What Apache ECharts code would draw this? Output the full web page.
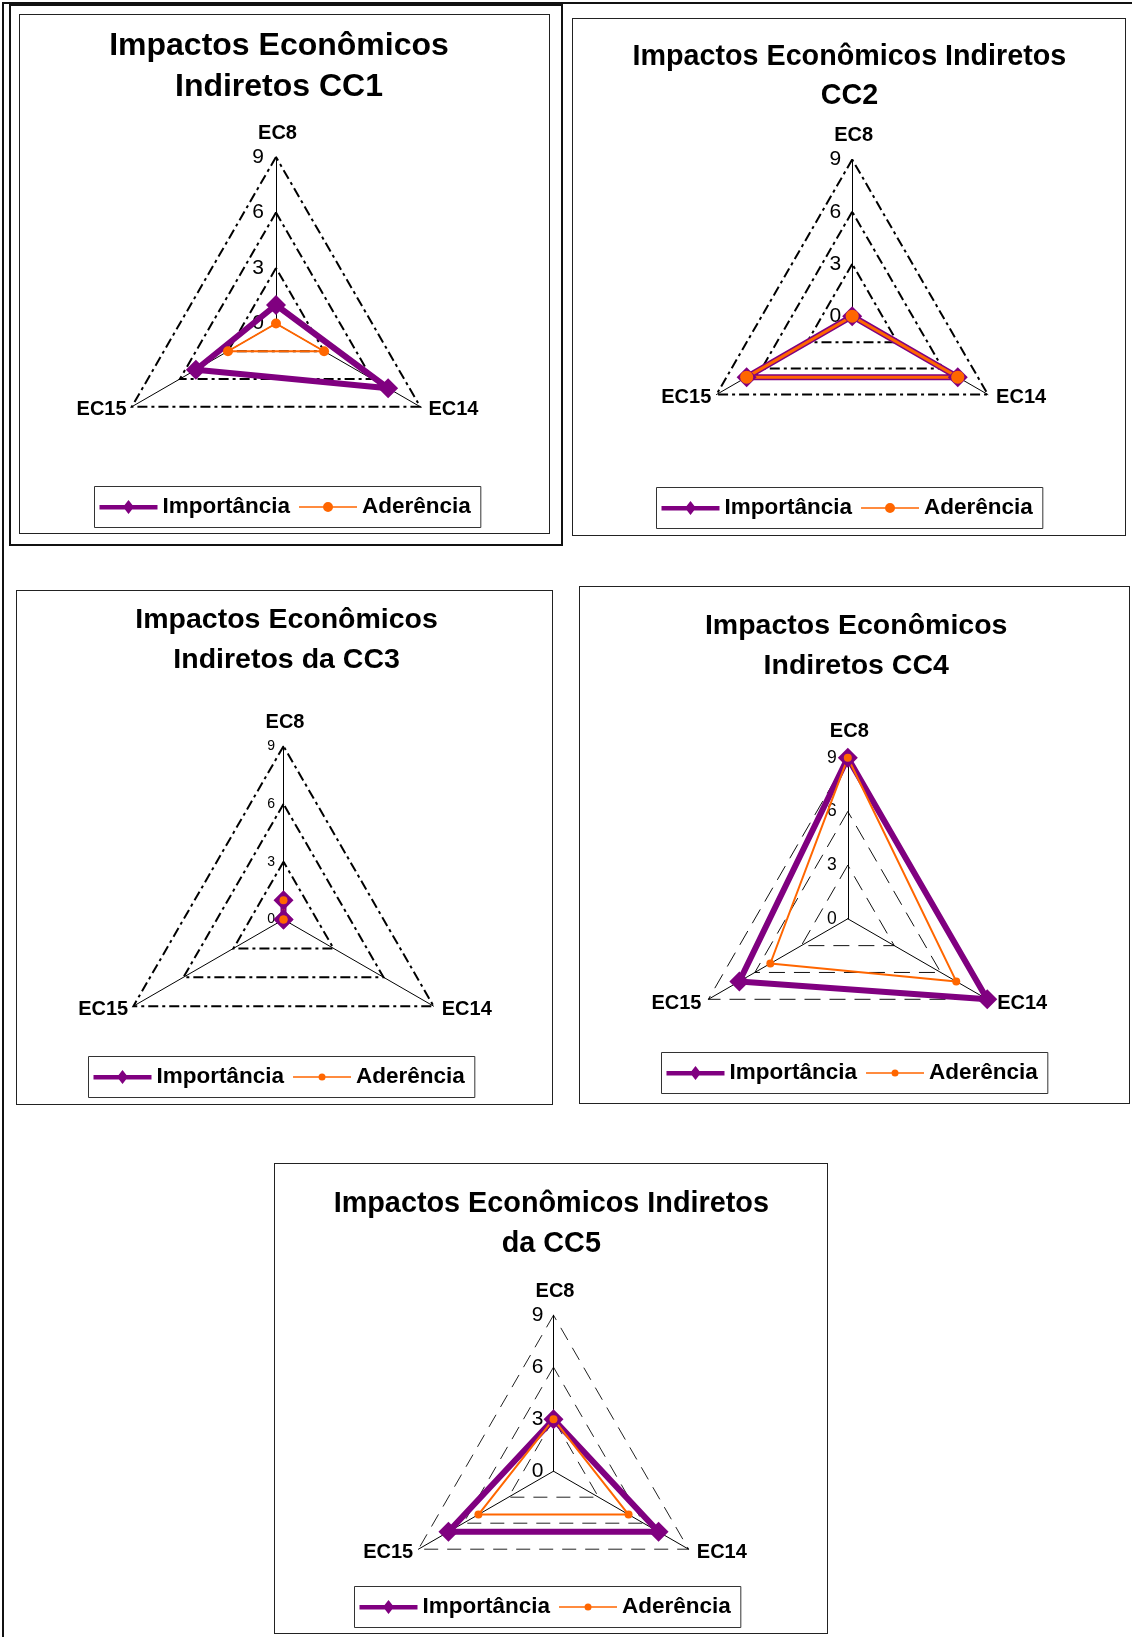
<!DOCTYPE html>
<html>
<head>
<meta charset="utf-8">
<script src="https://cdn.jsdelivr.net/npm/echarts@6/dist/echarts.min.js"></script>
<style>
  html, body { margin: 0; padding: 0; background: #fff; }
  body { width: 1136px; height: 1637px; position: relative; overflow: hidden; }
  .rule { position: absolute; background: #111; }
  .outline { position: absolute; box-sizing: border-box; border: 2.5px solid #111; }
  .panel { position: absolute; box-sizing: border-box; border: 1.5px solid #222; background: #fff; }
  .panel .chart { position: absolute; left: 0; top: 0; right: 0; bottom: 0; }
</style>
</head>
<body>
<div class="rule" style="left:2px;top:2px;width:1130px;height:2px"></div>
<div class="rule" style="left:2px;top:2px;width:2px;height:1635px"></div>
<div class="outline" style="left:9px;top:4px;width:554px;height:542px"></div>
<div class="panel" style="left:19px;top:14px;width:531px;height:520px"><div class="chart" id="c1"></div></div>
<div class="panel" style="left:572px;top:18px;width:554px;height:518px"><div class="chart" id="c2"></div></div>
<div class="panel" style="left:16px;top:590px;width:537px;height:515px"><div class="chart" id="c3"></div></div>
<div class="panel" style="left:579px;top:586px;width:551px;height:518px"><div class="chart" id="c4"></div></div>
<div class="panel" style="left:274px;top:1163px;width:554px;height:471px"><div class="chart" id="c5"></div></div>

<script>
// Indicators, listed counter-clockwise from the top axis
const categories = ['EC8', 'EC15', 'EC14'];
const seriesNames = ['Importância', 'Aderência'];
const axisMax = 9;
const axisSplits = 3; // ticks 0, 3, 6, 9

// Scores per company (same order as categories)
const cc1Importancia = [1, 5, 7];
const cc1Aderencia   = [0, 3, 3];
const cc2Importancia = [0, 7, 7];
const cc2Aderencia   = [0, 7, 7];
const cc3Importancia = [1, 0, 0];
const cc3Aderencia   = [1, 0, 0];
const cc4Importancia = [9, 7, 9];
const cc4Aderencia   = [9, 5, 7];
const cc5Importancia = [3, 7, 7];
const cc5Aderencia   = [3, 5, 5];

const titles = [
  'Impactos Econômicos\nIndiretos CC1',
  'Impactos Econômicos Indiretos\nCC2',
  'Impactos Econômicos\nIndiretos da CC3',
  'Impactos Econômicos\nIndiretos CC4',
  'Impactos Econômicos Indiretos\nda CC5'
];

const FONT = "'Liberation Sans', Arial, Helvetica, sans-serif";
const PURPLE = '#800080';
const ORANGE = '#FF6600';

// Legend glyphs: thick bar with diamond, thin bar with dot (58 x 14 box)
const ICON_IMP = 'path://M0,5 L58,5 L58,9.5 L0,9.5 Z M23.5,7 L29,0 L34.5,7 L29,14 Z';
function dotIcon(r) {
  const a = 29 - r, b = 29 + r;
  return 'path://M0,0 L0,0 Z M58,14 L58,14 Z M0,6.2 L58,6.2 L58,7.8 L0,7.8 Z ' +
    'M' + a + ',7 A' + r + ',' + r + ' 0 1,1 ' + b + ',7 A' + r + ',' + r + ' 0 1,1 ' + a + ',7 Z';
}

// Layout and look of each panel (titleX is the horizontal centre of the title)
const panels = [
  { id: 'c1', imp: cc1Importancia, ader: cc1Aderencia, center: [256, 308.5], radius: 166.5,
    titleSize: 32, titleLH: 41, titleTop: 11, titleX: 259, legend: [74.5, 471.5], nameGap: 6,
    labelSize: 21, labelMargin: 12, grid: { type: [10, 4, 3, 4], width: 2, color: '#000' }, dot: 10, dotIcon: 5 },
  { id: 'c2', imp: cc2Importancia, ader: cc2Aderencia, center: [279.2, 297.2], radius: 156.7,
    titleSize: 28.7, titleLH: 39, titleTop: 19, titleX: 276.4, legend: [83.5, 468.5], nameGap: 6,
    labelSize: 21, labelMargin: 11, grid: { type: [10, 4, 3, 4], width: 2, color: '#000' }, dot: 13, dotIcon: 5, aderWidth: 3 },
  { id: 'c3', imp: cc3Importancia, ader: cc3Aderencia, center: [266.5, 328.5], radius: 173.3,
    titleSize: 28.5, titleLH: 40, titleTop: 9, titleX: 269.6, legend: [71.5, 465.5], nameGap: 6,
    labelSize: 14, labelMargin: 8.5, grid: { type: [10, 4, 3, 4], width: 2, color: '#000' }, dot: 8, dotIcon: 3.5 },
  { id: 'c4', imp: cc4Importancia, ader: cc4Aderencia, center: [267.8, 331.8], radius: 161,
    titleSize: 28.5, titleLH: 40, titleTop: 19, titleX: 276.2, legend: [81.5, 465.5], nameGap: 8,
    labelSize: 17.5, labelMargin: 11, grid: { type: [16, 9], width: 1, color: '#111' }, dot: 8, dotIcon: 3.5 },
  { id: 'c5', imp: cc5Importancia, ader: cc5Aderencia, center: [278.5, 307.2], radius: 156,
    titleSize: 28.8, titleLH: 40, titleTop: 20, titleX: 276.3, legend: [79.5, 422.5], nameGap: 6,
    labelSize: 21, labelMargin: 10, grid: { type: [14, 9], width: 1, color: '#222' }, dot: 8, dotIcon: 3.5 }
];

panels.forEach(function (p, k) {
  const chart = echarts.init(document.getElementById(p.id), null, { renderer: 'canvas' });
  const tickLabel = {
    show: true, color: '#000', fontFamily: FONT, fontSize: p.labelSize,
    fontWeight: 'normal', margin: p.labelMargin
  };
  chart.setOption({
    animation: false,
    backgroundColor: '#fff',
    title: {
      text: titles[k],
      left: p.titleX,
      top: p.titleTop,
      textAlign: 'center',
      padding: 0,
      textStyle: {
        fontFamily: FONT, fontSize: p.titleSize, fontWeight: 'bold',
        color: '#000', lineHeight: p.titleLH
      }
    },
    legend: {
      left: p.legend[0],
      top: p.legend[1],
      orient: 'horizontal',
      selectedMode: false,
      borderColor: '#333',
      borderWidth: 1,
      padding: [9, 10, 9, 5],
      itemGap: 9,
      itemWidth: 58,
      itemHeight: 14,
      textStyle: { fontFamily: FONT, fontSize: 22.5, fontWeight: 'bold', color: '#000' },
      data: [
        { name: seriesNames[0], icon: ICON_IMP, itemStyle: { color: PURPLE, borderWidth: 0 } },
        { name: seriesNames[1], icon: dotIcon(p.dotIcon), itemStyle: { color: ORANGE, borderWidth: 0 } }
      ]
    },
    radar: {
      center: p.center,
      radius: p.radius,
      startAngle: 90,
      shape: 'polygon',
      splitNumber: axisSplits,
      nameGap: p.nameGap,
      indicator: categories.map(function (name, i) {
        return {
          name: name, min: 0, max: axisMax,
          axisLabel: i === 0 ? tickLabel : { show: false }
        };
      }),
      axisName: {
        color: '#000', fontFamily: FONT, fontSize: 20, fontWeight: 'bold',
        padding: [0, 0, 8, 3]
      },
      axisLine: { show: true, lineStyle: { color: '#000', width: 1 } },
      axisTick: { show: false },
      axisLabel: tickLabel,
      splitLine: { show: true, lineStyle: p.grid },
      splitArea: { show: false }
    },
    series: [{
      type: 'radar',
      emphasis: { disabled: true },
      data: [
        {
          name: seriesNames[0], value: p.imp,
          symbol: 'diamond', symbolSize: 20,
          lineStyle: { color: PURPLE, width: 6 },
          itemStyle: { color: PURPLE, borderWidth: 0 }
        },
        {
          name: seriesNames[1], value: p.ader,
          symbol: 'circle', symbolSize: p.dot,
          lineStyle: { color: ORANGE, width: p.aderWidth || 2 },
          itemStyle: { color: ORANGE, borderWidth: 0 }
        }
      ]
    }]
  });
});
</script>
</body>
</html>
